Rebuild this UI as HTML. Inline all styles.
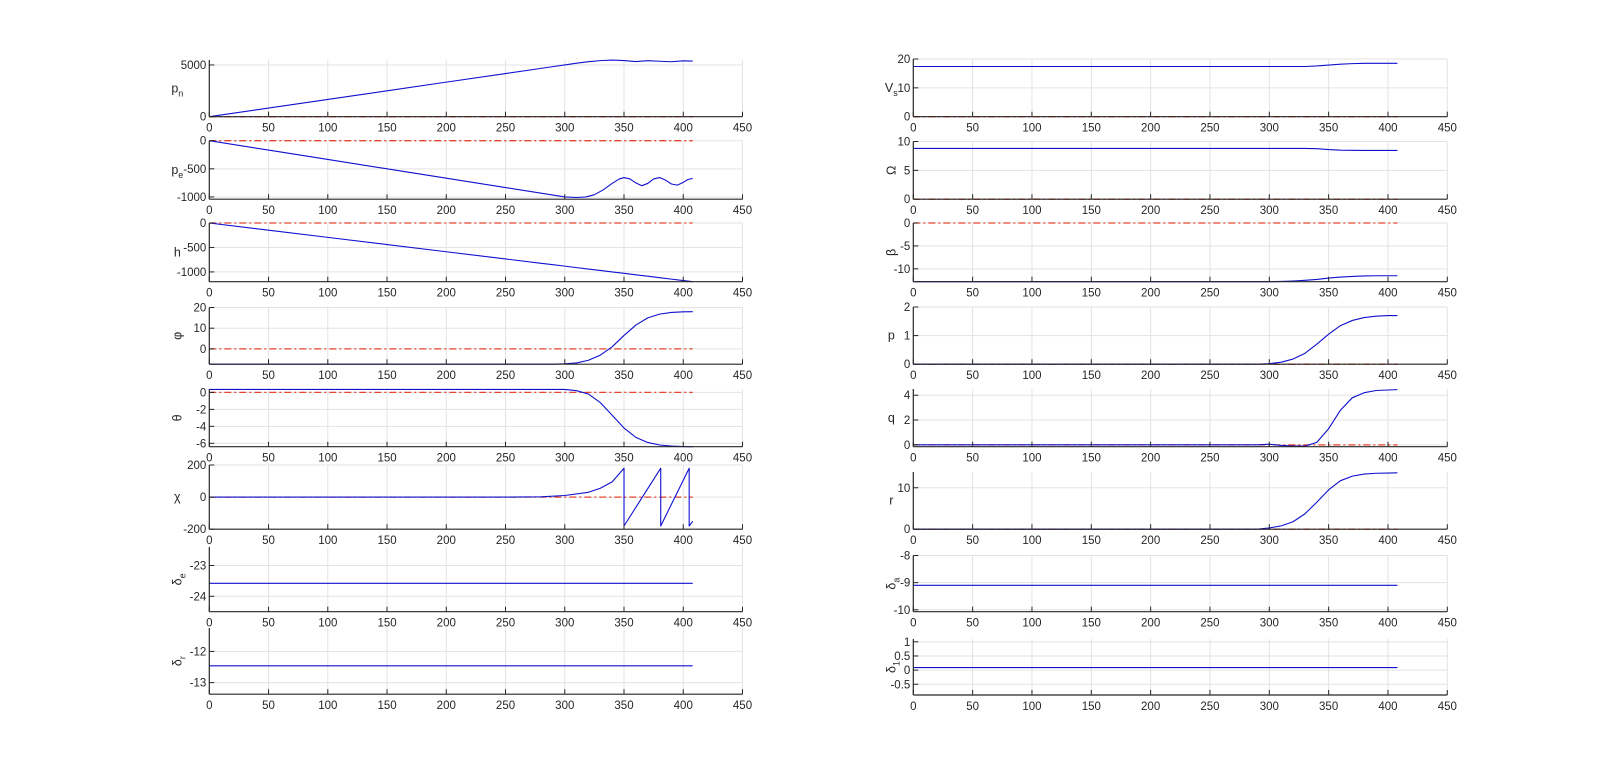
<!DOCTYPE html>
<html><head><meta charset="utf-8"><style>
html,body{margin:0;padding:0;background:#fff;}
svg{display:block;font-family:"Liberation Sans",sans-serif;}
</style></head><body>
<svg id="fig" width="1600" height="783" viewBox="0 0 1600 783" xmlns="http://www.w3.org/2000/svg"></svg>
<script>
// ---- data ----
const T = [0,50,100,150,200,250,280,290,300,310,320,330,340,350,360,370,380,390,400,408];
const pnV = [0,835,1670,2500,3340,4170,4670,4840,5000,5170,5320,5420,5470,5430,5330,5410,5360,5310,5400,5380];
const peT = [0,50,100,150,200,250,290,300,310,318,325,332,340,346,350,355,360,365,370,375,380,385,390,395,400,404,408];
const peV = [0,-167,-333,-500,-667,-833,-967,-1000,-1010,-1000,-960,-880,-760,-680,-655,-680,-750,-800,-760,-680,-655,-700,-770,-790,-740,-690,-670];
const hV = [0,-147,-294,-441,-588,-735,-824,-853,-882,-912,-941,-970,-1000,-1029,-1059,-1088,-1118,-1147,-1176,-1200];
const phiV = [-7.4,-7.4,-7.4,-7.4,-7.4,-7.4,-7.4,-7.4,-7.2,-6.8,-5.5,-3,1,6.5,11.5,15,16.8,17.6,17.9,18];
const thetaV = [0.35,0.35,0.35,0.35,0.35,0.35,0.35,0.35,0.35,0.2,-0.2,-1.2,-2.7,-4.2,-5.3,-5.9,-6.2,-6.33,-6.38,-6.4];
const chiT = [0,250,280,300,320,330,340,350,350,381,381,405,405,408];
const chiV = [0,0,2,10,30,55,95,180,-180,180,-180,180,-180,-150];
const deV = [-23.58,-23.58,-23.58,-23.58,-23.58,-23.58,-23.58,-23.58,-23.58,-23.58,-23.58,-23.58,-23.58,-23.58,-23.58,-23.58,-23.58,-23.58,-23.58,-23.58];
const drV = [-12.46,-12.46,-12.46,-12.46,-12.46,-12.46,-12.46,-12.46,-12.46,-12.46,-12.46,-12.46,-12.46,-12.46,-12.46,-12.46,-12.46,-12.46,-12.46,-12.46];
const VsV = [17.4,17.4,17.4,17.4,17.4,17.4,17.4,17.4,17.4,17.4,17.4,17.4,17.6,17.9,18.2,18.4,18.5,18.5,18.5,18.5];
const OmV = [8.8,8.8,8.8,8.8,8.8,8.8,8.8,8.8,8.8,8.8,8.8,8.8,8.75,8.6,8.5,8.47,8.45,8.45,8.45,8.45];
const betaV = [-12.8,-12.8,-12.8,-12.8,-12.8,-12.8,-12.8,-12.8,-12.8,-12.75,-12.65,-12.5,-12.3,-12.0,-11.8,-11.65,-11.55,-11.5,-11.5,-11.5];
const pV = [0,0,0,0,0,0,0,0,0.02,0.07,0.18,0.38,0.7,1.05,1.35,1.53,1.63,1.68,1.7,1.7];
const qV = [0,0,0,0,0,0,0,0,0.05,-0.05,-0.1,-0.1,0.2,1.3,2.8,3.8,4.2,4.38,4.42,4.45];
const rV = [0,0,0,0,0,0,0,0,0.3,0.8,1.8,3.7,6.5,9.5,11.7,12.8,13.3,13.5,13.55,13.6];
const daV = [-9.1,-9.1,-9.1,-9.1,-9.1,-9.1,-9.1,-9.1,-9.1,-9.1,-9.1,-9.1,-9.1,-9.1,-9.1,-9.1,-9.1,-9.1,-9.1,-9.1];
const d1V = [0.09,0.09,0.09,0.09,0.09,0.09,0.09,0.09,0.09,0.09,0.09,0.09,0.09,0.09,0.09,0.09,0.09,0.09,0.09,0.09];
const xTicks = [0,50,100,150,200,250,300,350,400,450];
const refT = [0,408];
const refV = [0,0];

const NS="http://www.w3.org/2000/svg";
const svg=document.getElementById('fig');
function mk(tag,attrs,parent){const e=document.createElementNS(NS,tag);for(const k in attrs)e.setAttribute(k,attrs[k]);(parent||svg).appendChild(e);return e;}

const plots=[
 {id:'pn',label:'p',sub:'n',col:0,top:60,bot:116.7,yl:[0,5480],yt:[0,5000],t:T,v:pnV,ref:true},
 {id:'pe',label:'p',sub:'e',col:0,top:140.7,bot:199.2,yl:[-1040,0],yt:[-1000,-500,0],t:peT,v:peV,ref:true},
 {id:'h',label:'h',col:0,top:223,bot:281.7,yl:[-1200,0],yt:[-1000,-500,0],t:T,v:hV,ref:true},
 {id:'phi',label:'φ',col:0,top:307.5,bot:364.2,yl:[-7.4,20],yt:[0,10,20],t:T,v:phiV,ref:true,rot:true},
 {id:'theta',label:'θ',col:0,top:389,bot:446.7,yl:[-6.4,0.4],yt:[-6,-4,-2,0],t:T,v:thetaV,ref:true,rot:true},
 {id:'chi',label:'χ',col:0,top:465,bot:529.2,yl:[-200,200],yt:[-200,0,200],t:chiT,v:chiV,ref:true},
 {id:'delta-e',label:'δ',sub:'e',col:0,top:547,bot:611.7,yl:[-24.5,-22.4],yt:[-24,-23],t:T,v:deV,rot:true},
 {id:'delta-r',label:'δ',sub:'r',col:0,top:628,bot:694.2,yl:[-13.37,-11.25],yt:[-13,-12],t:T,v:drV,rot:true},
 {id:'vs',label:'V',sub:'s',col:1,top:59,bot:116.7,yl:[0,20],yt:[0,10,20],t:T,v:VsV,ref:true},
 {id:'omega',label:'Ω',col:1,top:141.5,bot:199.2,yl:[0,10],yt:[0,5,10],t:T,v:OmV,ref:true,rot:true},
 {id:'beta',label:'β',col:1,top:223,bot:281.7,yl:[-12.8,0],yt:[-10,-5,0],t:T,v:betaV,ref:true,rot:true},
 {id:'p',label:'p',col:1,top:307,bot:364.2,yl:[0,2],yt:[0,1,2],t:T,v:pV,ref:true},
 {id:'q',label:'q',col:1,top:389,bot:446.7,yl:[-0.15,4.5],yt:[0,2,4],t:T,v:qV,ref:true},
 {id:'r',label:'r',col:1,top:472,bot:529.2,yl:[0,13.8],yt:[0,10],t:T,v:rV,ref:true},
 {id:'delta-a',label:'δ',sub:'a',col:1,top:555.5,bot:611.7,yl:[-10.07,-8],yt:[-10,-9,-8],t:T,v:daV,rot:true},
 {id:'delta-1',label:'δ',sub:'1',col:1,top:639,bot:695,yl:[-0.88,1.1],yt:[-0.5,0,0.5,1],t:T,v:d1V,rot:true}
];
const colX=[[209.3,742.5],[913.3,1447.3]];
const labOff=[32,22];

plots.forEach(P=>{
  const [x0,x1]=colX[P.col];
  const sx=t=>x0+(t-0)/(450-0)*(x1-x0);
  const sy=v=>P.bot-(v-P.yl[0])/(P.yl[1]-P.yl[0])*(P.bot-P.top);
  const g=mk('g',{});
  
  
  xTicks.forEach(t=>{ if(t>0) mk('line',{x1:sx(t),x2:sx(t),y1:P.top,y2:P.bot,stroke:'#e3e3e3','stroke-width':1},g); });
  P.yt.forEach(v=>mk('line',{x1:x0,x2:x1,y1:sy(v),y2:sy(v),stroke:'#e3e3e3','stroke-width':1},g));
  if(P.ref){
    const pts=refT.map((t,i)=>sx(t)+','+sy(refV[i])).join(' ');
    const rl=mk('polyline',{points:pts,fill:'none',stroke:'#e8452e','stroke-width':1.3,'stroke-dasharray':'7,3,2,3'},g);
    
    
  }
  const pts=P.t.map((t,i)=>sx(t).toFixed(2)+','+sy(P.v[i]).toFixed(2)).join(' ');
  const dl=mk('polyline',{points:pts,fill:'none',stroke:'#1010d0','stroke-width':1.1,'stroke-linejoin':'round'},g);
  
  
  mk('line',{x1:x0,x2:x0,y1:P.top,y2:P.bot,stroke:'#262626','stroke-width':1.2},g);
  mk('line',{x1:x0,x2:x1,y1:P.bot,y2:P.bot,stroke:'#262626','stroke-width':1.2},g);
  xTicks.forEach(t=>{
    mk('line',{x1:sx(t),x2:sx(t),y1:P.bot,y2:P.bot-5,stroke:'#262626','stroke-width':1},g);
    const tx=mk('text',{x:sx(t),y:P.bot+15,'text-anchor':'middle','font-size':11.5,fill:'#262626'},g);
    tx.textContent=t;
    
    
  });
  P.yt.forEach(v=>{
    mk('line',{x1:x0,x2:x0+5,y1:sy(v),y2:sy(v),stroke:'#262626','stroke-width':1},g);
    const ty=mk('text',{x:x0-3,y:sy(v)+4,'text-anchor':'end','font-size':11.5,fill:'#262626'},g);
    ty.textContent=v;
    
    
  });
  const lx=x0-labOff[P.col], ly=(P.top+P.bot)/2+4;
  const lab=mk('text',{x:lx,y:ly,'text-anchor':'middle','font-size':12.5,fill:'#262626'},g);
  if(P.rot) lab.setAttribute('transform','rotate(-90 '+lx+' '+(ly-4)+')');
  
  
  lab.appendChild(document.createTextNode(P.label));
  if(P.sub){const s=mk('tspan',{'font-size':9,dy:4},lab);s.textContent=P.sub;}
});
</script>
</body></html>
